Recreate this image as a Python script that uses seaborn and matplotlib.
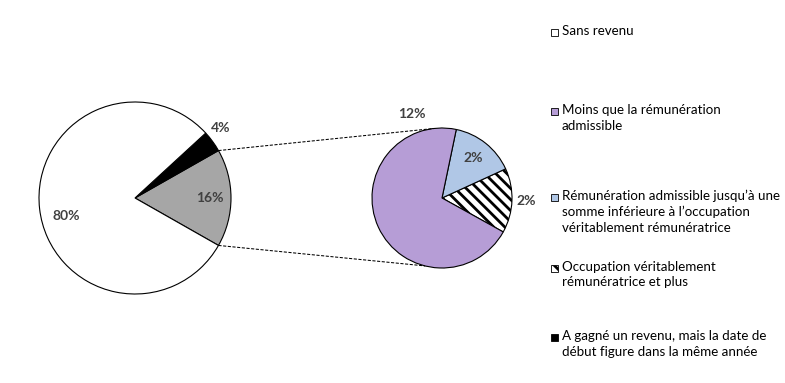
import matplotlib
matplotlib.use("Agg")
import matplotlib.pyplot as plt
import seaborn as sns
import numpy as np
from matplotlib.patches import Rectangle

# ---------------- data ----------------
categories = [
    "Sans revenu",
    "Moins que la rémunération admissible",
    "Rémunération admissible jusqu’à une somme inférieure à l’occupation véritablement rémunératrice",
    "Occupation véritablement rémunératrice et plus",
    "A gagné un revenu, mais la date de début figure dans la même année",
]
main_values = [79.95, 3.6]           # Sans revenu, A gagné un revenu...
split_values = [11.55, 2.45, 2.45]   # Moins que..., Rémunération admissible..., Occupation...
main_labels = ["80%", "4%"]
split_labels = ["12%", "2%", "2%"]
combined_label = "16%"
legend_labels = [
    "Sans revenu",
    "Moins que la rémunération\nadmissible",
    "Rémunération admissible jusqu’à une\nsomme inférieure à l’occupation\nvéritablement rémunératrice",
    "Occupation véritablement\nrémunératrice et plus",
    "A gagné un revenu, mais la date de\ndébut figure dans la même année",
]

# ---------------- style ----------------
sns.set_theme(style="white")
plt.rcParams["font.family"] = ["Lato", "DejaVu Sans"]
plt.rcParams["hatch.linewidth"] = 2.0

W, H = 785, 383
fig = plt.figure(figsize=(W / 100, H / 100), dpi=100)
ax = fig.add_axes([0, 0, 1, 1])

white_c = "#ffffff"
black_c = "#000000"
gray_c = "#a6a6a6"
purple_c = "#b69dd6"
blue_c = "#b0c7e6"
edge_kw = dict(edgecolor="black", linewidth=0.8)

# ---------------- left (main) pie ----------------
combined = sum(split_values)
left_vals = [combined, main_values[1], main_values[0]]
total = sum(left_vals)
lc, lr = (135, H - 198), 96
lw, _ = ax.pie(left_vals, colors=[gray_c, black_c, white_c],
               startangle=-combined / total * 180, counterclock=True,
               center=lc, radius=lr, wedgeprops=edge_kw)

# ---------------- right (split) pie ----------------
right_vals = [split_values[2], split_values[1], split_values[0]]
rc_, rr = (442, H - 198), 70
rw, _ = ax.pie(right_vals, colors=["white", blue_c, purple_c],
               startangle=-29, counterclock=True,
               center=rc_, radius=rr, wedgeprops=edge_kw)
rw[0].set_hatch("\\\\\\")

# ---------------- connector lines ----------------
def pt(c, r, ang):
    a = np.deg2rad(ang)
    return c[0] + r * np.cos(a), c[1] + r * np.sin(a)

g = lw[0]
for a_left, a_right in [(g.theta2, 97), (g.theta1, 256)]:
    x0, y0 = pt(lc, lr, a_left)
    x1, y1 = pt(rc_, rr, a_right)
    ax.plot([x0, x1], [y0, y1], color="black", lw=0.75, ls=(0, (3, 1.5)))

# ---------------- labels ----------------
lab_kw = dict(ha="center", va="center", fontsize=10, fontweight="bold", color="#404040")

def mid(w):
    return (w.theta1 + w.theta2) / 2

# left: gray (16%), black (4%), white (80%)
left_layout = [(0, 0.78), (3, 1.15), (8, 0.74)]
for w, txt, (da, rf) in zip(lw, [combined_label, main_labels[1], main_labels[0]], left_layout):
    x, y = pt(lc, lr * rf, mid(w) + da)
    ax.text(x, y, txt, **lab_kw)

# right: hatch (2%), blue (2%), purple (12%)
right_layout = [(0, 1.21), (0.5, 0.72), (-95, 1.27)]
for w, txt, (da, rf) in zip(rw, [split_labels[2], split_labels[1], split_labels[0]], right_layout):
    x, y = pt(rc_, rr * rf, mid(w) + da)
    ax.text(x, y, txt, **lab_kw)

# ---------------- legend ----------------
leg_faces = [white_c, purple_c, blue_c, "white", black_c]
leg_hatch = [None, None, None, "\\\\\\", None]
leg_y = [32, 111, 197, 268, 337]
for lab, fc, ht, yy in zip(legend_labels, leg_faces, leg_hatch, leg_y):
    ax.add_patch(Rectangle((551, H - yy - 3.5), 6.5, 6.5, facecolor=fc,
                           edgecolor="black", linewidth=0.6, hatch=ht))
    ax.text(562, H - yy + 7, lab, ha="left", va="top", fontsize=9.6,
            color="black", linespacing=1.35)

ax.set_xlim(0, W)
ax.set_ylim(0, H)
ax.set_aspect("equal")
ax.axis("off")

fig.savefig("out.png", dpi=100, facecolor="white")
